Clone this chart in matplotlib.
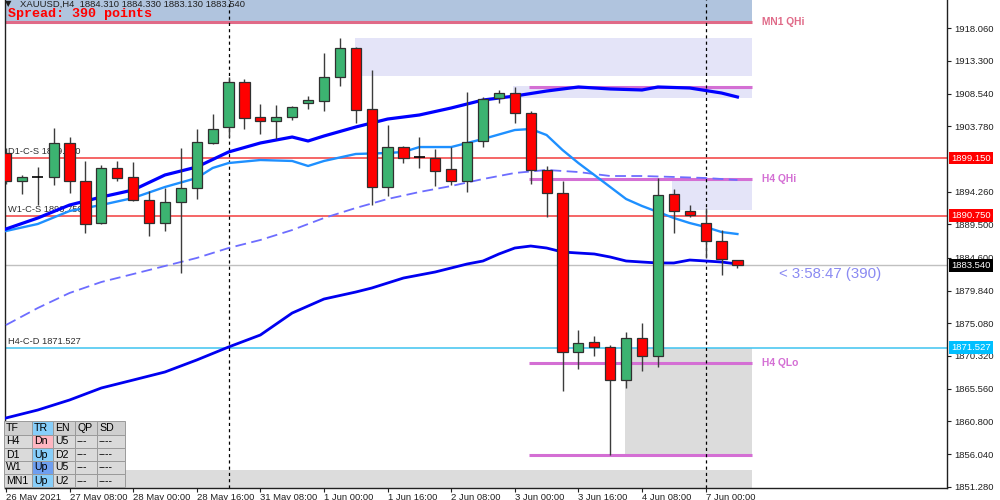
import numpy as np
import matplotlib
matplotlib.use("Agg")
import matplotlib.pyplot as plt
import matplotlib.transforms as mtransforms
from matplotlib.patches import Rectangle

plt.rcParams['font.family'] = ['Liberation Sans', 'DejaVu Sans']

# ---------------- data (XAUUSD, H4) ----------------
time_label_bars = [0, 4, 8, 12, 16, 20, 24, 28, 32, 36, 40, 44]
time_labels = ['26 May 2021', '27 May 08:00', '28 May 00:00', '28 May 16:00',
               '31 May 08:00', '1 Jun 00:00', '1 Jun 16:00', '2 Jun 08:00',
               '3 Jun 00:00', '3 Jun 16:00', '4 Jun 08:00', '7 Jun 00:00']

opens = [1899.93, 1895.86, 1896.44, 1896.44, 1901.30, 1895.86, 1889.65, 1897.75,
         1896.39, 1893.04, 1889.65, 1892.80, 1894.84, 1901.30, 1903.63, 1910.19,
         1905.09, 1904.51, 1905.09, 1907.13, 1907.51, 1911.01, 1915.23, 1906.26,
         1894.98, 1900.81, 1899.26, 1899.12, 1897.52, 1895.86, 1901.60, 1907.86,
         1908.59, 1905.67, 1897.41, 1894.11, 1870.94, 1872.31, 1871.67, 1866.82,
         1872.90, 1870.36, 1893.92, 1891.49, 1889.74, 1887.11, 1884.31]
highs = [1900.62, 1896.73, 1897.85, 1903.49, 1902.27, 1898.77, 1898.14, 1898.77,
         1898.58, 1894.31, 1894.75, 1900.58, 1903.39, 1905.57, 1911.01, 1910.63,
         1907.03, 1906.88, 1906.74, 1908.19, 1914.42, 1916.60, 1915.40, 1911.98,
         1903.97, 1900.90, 1902.27, 1900.47, 1900.81, 1908.73, 1908.09, 1909.07,
         1909.55, 1906.01, 1898.00, 1895.86, 1874.11, 1873.23, 1871.92, 1873.86,
         1875.08, 1896.21, 1894.60, 1892.32, 1891.83, 1888.67, 1884.33]
lows = [1895.37, 1893.92, 1892.32, 1895.23, 1894.02, 1888.19, 1889.50, 1895.86,
        1892.90, 1887.84, 1888.53, 1882.37, 1893.19, 1901.16, 1902.27, 1903.34,
        1902.62, 1901.89, 1904.70, 1906.26, 1906.05, 1909.65, 1904.30, 1892.32,
        1893.63, 1898.39, 1897.66, 1895.08, 1895.19, 1894.25, 1900.81, 1907.22,
        1904.30, 1895.37, 1890.61, 1865.26, 1868.38, 1870.32, 1855.90, 1865.61,
        1868.18, 1868.67, 1888.28, 1890.61, 1884.55, 1882.12, 1883.13]
closes = [1895.86, 1896.44, 1896.44, 1901.30, 1895.86, 1889.55, 1897.75, 1896.21,
          1893.04, 1889.65, 1892.80, 1894.84, 1901.45, 1903.39, 1910.19, 1904.95,
          1904.51, 1905.09, 1906.55, 1907.61, 1911.01, 1915.23, 1906.11, 1894.98,
          1900.72, 1899.21, 1899.26, 1897.31, 1895.86, 1901.45, 1907.76, 1908.68,
          1905.67, 1897.41, 1894.11, 1870.94, 1872.26, 1871.67, 1866.82, 1872.90,
          1870.36, 1893.77, 1891.49, 1890.86, 1887.11, 1884.40, 1883.54]

# moving averages, read at selected bars
ma_upper_bars = [0, 2, 4, 6, 8, 10, 12, 14, 16, 18, 19, 20, 22, 24, 26, 28, 30, 32,
                 34, 36, 38, 40, 41, 43, 45, 46]
ma_upper_vals = [1888.82, 1890.42, 1892.31, 1893.48, 1894.50, 1896.69, 1897.85,
                 1900.04, 1901.35, 1902.22, 1901.64, 1902.37, 1903.68, 1904.84,
                 1905.43, 1906.45, 1907.61, 1908.19, 1908.92, 1909.51, 1909.22,
                 1909.07, 1909.51, 1909.36, 1908.63, 1908.05]
ma_light_bars = [0, 2, 4, 6, 8, 10, 12, 13, 14, 16, 18, 19, 20, 22, 24, 25, 26, 28,
                 30, 32, 33, 34, 35, 36, 37, 38, 39, 40, 41, 42, 43, 44, 45, 46]
ma_light_vals = [1888.53, 1889.55, 1891.44, 1892.32, 1893.34, 1894.94, 1896.25,
                 1897.71, 1898.43, 1898.87, 1898.73, 1898.00, 1898.73, 1899.75,
                 1899.89, 1900.04, 1900.76, 1900.76, 1901.93, 1903.24, 1903.39,
                 1902.51, 1900.33, 1898.43, 1896.69, 1894.94, 1893.19, 1892.17,
                 1891.30, 1890.42, 1889.69, 1889.11, 1888.38, 1888.09]
ma_lower_bars = [0, 2, 4, 6, 8, 10, 12, 14, 16, 18, 20, 22, 23, 25, 27, 29, 30, 31,
                 32, 33, 34, 35, 36, 37, 38, 39, 40, 41, 42, 43, 44, 45, 46]
ma_lower_vals = [1861.29, 1862.45, 1863.91, 1865.66, 1866.82, 1867.99, 1869.74,
                 1871.63, 1873.38, 1876.58, 1878.62, 1879.64, 1880.22, 1881.68,
                 1882.56, 1883.72, 1884.16, 1885.18, 1886.05, 1886.34, 1886.05,
                 1885.47, 1885.32, 1885.18, 1884.74, 1884.16, 1884.01, 1883.87,
                 1883.87, 1884.30, 1884.16, 1884.01, 1883.72]
ma_dash_bars = list(range(0, 47, 2))
ma_dash_vals = [1874.83, 1877.31, 1879.50, 1881.10, 1882.26, 1883.43, 1884.60,
                1886.05, 1887.22, 1888.67, 1890.42, 1891.88, 1893.19, 1894.21,
                1895.08, 1896.10, 1896.98, 1897.42, 1897.12, 1896.54, 1896.54,
                1896.40, 1896.25, 1895.96]

# horizontal level lines (full width)
level_names = ['D1-C-S', 'W1-C-S', 'H4-C-D']
level_prices = [1899.150, 1890.750, 1871.527]
level_colors = ['#f23c3c', '#f23c3c', '#3fc3f0']
level_tag_colors = ['#ff0000', '#ff0000', '#00bfff']
last_price = 1883.540

# zone objects: start bar, end bar, low, high
zone_start = [-1.0, 21.95, 31.9, 41.9, 38.9, -1.0]
zone_end = [46.9, 46.9, 46.9, 46.9, 46.9, 46.9]
zone_low = [1918.98, 1911.11, 1907.90, 1891.59, 1855.97, 1850.0]
zone_high = [1925.0, 1916.64, 1909.65, 1896.10, 1871.53, 1853.71]
zone_colors = ['#b0c4de', '#e4e4f8', '#e4e4f8', '#e4e4f8', '#dcdcdc', '#dcdcdc']

# quarter lines: start bar, price, label
q_start = [-1.0, 32.9, 32.9, 32.9, 32.9]
q_price = [1918.98, 1909.50, 1896.10, 1869.30, 1855.97]
q_labels = ['MN1 QHi', '', 'H4 QHi', 'H4 QLo', '']
q_colors = ['#e06a88', '#d46fd4', '#d46fd4', '#d46fd4', '#d46fd4']

separator_bars = [14, 44]

# 1899.02 sits under the D1 price tag, so it is left out
yticks = [1918.06, 1913.30, 1908.54, 1903.78, 1894.26, 1889.50, 1884.60,
          1879.84, 1875.08, 1870.32, 1865.56, 1860.80, 1856.04, 1851.28]

table_head = ['TF', 'TR', 'EN', 'QP', 'SD']
table_tf = ['H4', 'D1', 'W1', 'MN1']
table_tr = ['Dn', 'Up', 'Up', 'Up']
table_en = ['U5', 'D2', 'U5', 'U2']
table_tr_colors = ['#ffb6c1', '#87cefa', '#6f9ff0', '#87cefa']

# ---------------- figure ----------------
fig = plt.figure(figsize=(10, 5), dpi=100)
ax = fig.add_axes([0.005, 0.024, 0.942, 0.976])
ax.set_xlim(-0.06, 59.18)
ax.set_ylim(1851.09, 1922.18)

# zones
for s, e, lo, hi, col in zip(zone_start, zone_end, zone_low, zone_high, zone_colors):
    ax.add_patch(Rectangle((s, lo), e - s, hi - lo, facecolor=col, edgecolor='none', zorder=1))

# quarter lines + labels
for s, p, lab, col in zip(q_start, q_price, q_labels, q_colors):
    ax.hlines(p, s, 46.9, color=col, lw=2.2, zorder=2)
    if lab:
        ax.text(47.55, p, lab, color=col, fontsize=7.4, fontweight='bold',
                va='center', ha='left', zorder=2)

# level lines with labels and price tags
blend = mtransforms.blended_transform_factory(ax.transAxes, ax.transData)
for name, p, col, tcol in zip(level_names, level_prices, level_colors, level_tag_colors):
    ax.axhline(p, color=col, lw=1.1, zorder=2)
    ax.text(0.15, p + 0.25, f'{name} {p:.3f}', color='#303030', fontsize=6.7,
            va='bottom', ha='left', zorder=2.5)
    ax.text(1.0045, p, f'{p:.3f}', transform=blend, color='white', fontsize=6.8,
            va='center', ha='left', zorder=10, clip_on=False,
            bbox=dict(boxstyle='square,pad=0.2', fc=tcol, ec='none'))

ax.axhline(last_price, color='#c0c0c0', lw=1, zorder=2)
ax.text(1.0045, last_price, f'{last_price:.3f}', transform=blend, color='white',
        fontsize=6.8, va='center', ha='left', zorder=10, clip_on=False,
        bbox=dict(boxstyle='square,pad=0.2', fc='black', ec='none'))

# period separators
for b in separator_bars:
    ax.axvline(b, color='black', lw=0.9, ls=(0, (2.5, 2.5)), zorder=2)

# moving averages
ax.plot(ma_lower_bars, ma_lower_vals, color='#0000f0', lw=2.0, zorder=3)
ax.plot(ma_dash_bars, ma_dash_vals, color='#6d6dff', lw=1.3, ls=(0, (6, 3)), zorder=3)
ax.plot(ma_light_bars, ma_light_vals, color='#1e90ff', lw=1.7, zorder=3)
ax.plot(ma_upper_bars, ma_upper_vals, color='#0000ff', lw=2.3, zorder=3)

# candles
o, h, l, c = map(np.array, (opens, highs, lows, closes))
x = np.arange(len(o))
ax.vlines(x, l, h, color='#3c3c3c', lw=1.0, zorder=4)
body_lo = np.minimum(o, c)
body_h = np.abs(c - o)
doji = body_h < 0.05
up = (c > o) & ~doji
dn = (c < o) & ~doji
ax.bar(x[up], body_h[up], bottom=body_lo[up], width=0.64, color='#3cb371',
       edgecolor='#303030', lw=0.9, zorder=5)
ax.bar(x[dn], body_h[dn], bottom=body_lo[dn], width=0.64, color='#ff0000',
       edgecolor='#303030', lw=0.9, zorder=5)
ax.hlines(o[doji], x[doji] - 0.34, x[doji] + 0.34, color='black', lw=1.2, zorder=5)

# countdown text
ax.text(48.6, 1882.26, '< 3:58:47 (390)', color='#8a8af2', fontsize=10.8,
        va='center', ha='left', zorder=6)

# axes styling
ax.spines['top'].set_visible(False)
for side in ['left', 'bottom', 'right']:
    ax.spines[side].set_color('#202020')
    ax.spines[side].set_linewidth(1.0)
ax.yaxis.tick_right()
ax.set_yticks(yticks)
ax.set_yticklabels([f'{v:.3f}' for v in yticks])
ax.tick_params(axis='y', length=3, pad=2.2, labelsize=6.8, colors='#202020')
ax.set_xticks(time_label_bars)
ax.set_xticklabels(time_labels, ha='left')
ax.tick_params(axis='x', length=3, pad=0.6, labelsize=6.8, colors='#202020')

# overlay in pixel coordinates for the header text and info table
ov = fig.add_axes([0, 0, 1, 1], zorder=5)
ov.set_xlim(0, 1000)
ov.set_ylim(500, 0)
ov.axis('off')
ov.patch.set_alpha(0)

ov.text(8, 4, '\u25bc', fontsize=6, color='#202020', va='center', ha='center',
        family=['DejaVu Sans'])
ov.text(20, 4, 'XAUUSD,H4  1884.310 1884.330 1883.130 1883.540', fontsize=6.8,
        color='#202020', va='center', ha='left')
ov.text(8, 14, 'Spread: 390 points', fontsize=9.6, color='red', fontweight='bold',
        family=['Liberation Mono', 'DejaVu Sans Mono'], va='center', ha='left')

col_edges = [4, 32, 53, 75, 97, 125]
row_edges = [421, 434.5, 447.5, 460.5, 473.5, 487]
rows = [table_head] + [[tf, tr, en, '---', '----']
                       for tf, tr, en in zip(table_tf, table_tr, table_en)]
for r, row in enumerate(rows):
    for ci, txt in enumerate(row):
        x0, x1 = col_edges[ci], col_edges[ci + 1]
        y0, y1 = row_edges[r], row_edges[r + 1]
        if ci == 1:
            fc = '#87cefa' if r == 0 else table_tr_colors[r - 1]
        else:
            fc = '#cfcfcf' if r == 0 else '#dadada'
        ov.add_patch(Rectangle((x0, y0), x1 - x0, y1 - y0, facecolor=fc,
                               edgecolor='#9a9a9a', lw=0.7))
        ov.text(x0 + 2, (y0 + y1) / 2 + 0.5, txt, fontsize=7.6, color='black',
                va='center', ha='left')

fig.savefig('out.png', dpi=100)
